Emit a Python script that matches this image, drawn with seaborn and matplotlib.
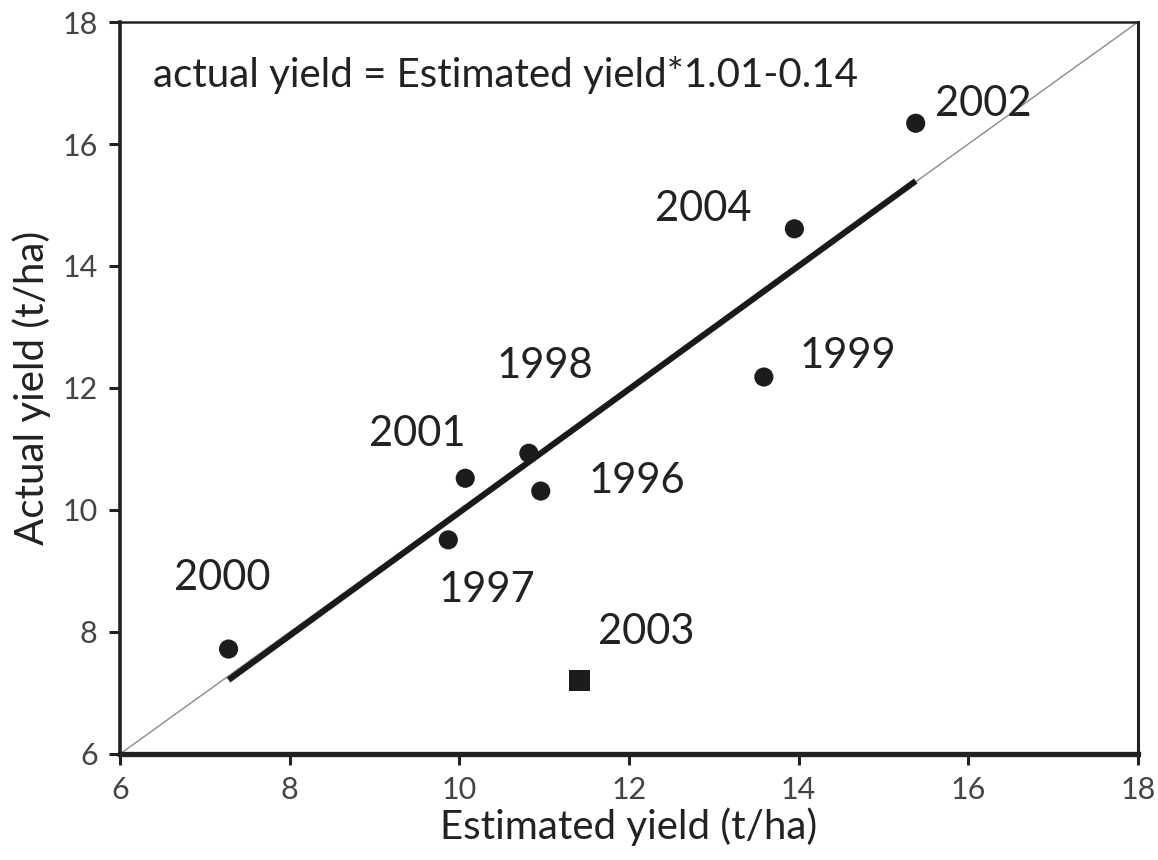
import numpy as np
import pandas as pd
import matplotlib
matplotlib.use("Agg")
import matplotlib.pyplot as plt
import seaborn as sns

# Yield data per season (t/ha)
years = ["1996", "1997", "1998", "1999", "2000", "2001", "2002", "2003", "2004"]
estimated = [10.96, 9.87, 10.82, 13.59, 7.28, 10.07, 15.38, 11.42, 13.95]
actual = [10.31, 9.51, 10.93, 12.18, 7.72, 10.52, 16.34, 7.20, 14.61]
outlier_year = "2003"

# Fitted regression (outlier excluded)
slope = 1.01
intercept = -0.14
equation_label = "actual yield = Estimated yield*1.01-0.14"

# Label positions for the year annotations
label_x = [12.09, 10.32, 11.01, 14.58, 7.21, 9.51, 16.18, 12.20, 12.87]
label_y = [10.48, 8.69, 12.36, 12.52, 8.89, 11.25, 16.66, 8.00, 14.93]

axis_ticks = [6, 8, 10, 12, 14, 16, 18]

sns.set_theme(style="white")
plt.rcParams["font.family"] = ["Lato", "DejaVu Sans"]

df = pd.DataFrame({"year": years, "estimated": estimated, "actual": actual})
df["kind"] = np.where(df["year"] == outlier_year, "outlier", "normal")

fig = plt.figure(figsize=(11.58, 8.60), dpi=100)
ax = fig.add_axes([0.1036, 0.1233, 0.8791, 0.8511])

# 1:1 reference line
ax.plot([6, 18], [6, 18], color="#8a8a8a", lw=1.0, zorder=1)

# Regression line over the range of fitted points
fit = df[df["kind"] == "normal"]
xs = np.array([fit["estimated"].min(), fit["estimated"].max()])
line_df = pd.DataFrame({"x": xs, "y": slope * xs + intercept})
sns.lineplot(data=line_df, x="x", y="y", ax=ax, color="#1a1a1a", lw=4.4,
             zorder=2, solid_capstyle="butt")

sns.scatterplot(data=df, x="estimated", y="actual", style="kind",
                markers={"normal": "o", "outlier": "s"},
                size="kind", sizes={"normal": 190, "outlier": 230},
                color="#1c1c1c", edgecolor="none", legend=False, ax=ax, zorder=3)

for yr, lx, ly in zip(years, label_x, label_y):
    ax.text(lx, ly, yr, fontsize=30, color="#222222", ha="center", va="center")

ax.text(6.39, 17.13, equation_label, fontsize=29, color="#222222",
        ha="left", va="center")

ax.set_xlim(6, 18)
ax.set_ylim(6, 18)
ax.set_xticks(axis_ticks)
ax.set_yticks(axis_ticks)
ax.set_xlabel("Estimated yield (t/ha)", fontsize=29, color="#222222", labelpad=2)
ax.set_ylabel("Actual yield (t/ha)", fontsize=29, color="#222222", labelpad=8)

for side, w in {"left": 2.6, "bottom": 3.8, "top": 1.8, "right": 2.2}.items():
    ax.spines[side].set_visible(True)
    ax.spines[side].set_color("#222222")
    ax.spines[side].set_linewidth(w)

ax.tick_params(axis="both", which="major", direction="out", length=8, width=2.2,
               color="#222222", labelsize=22, labelcolor="#444444",
               bottom=True, left=True, top=False, right=False, pad=8)

fig.savefig("out.png", dpi=100, facecolor="white")
